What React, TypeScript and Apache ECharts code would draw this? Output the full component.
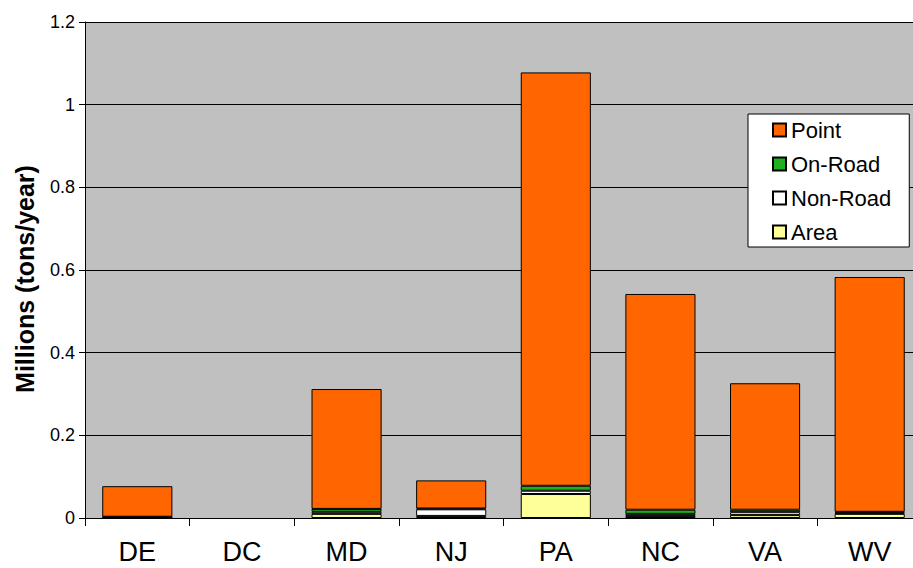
import React, { useEffect, useRef } from "react";
import * as echarts from "echarts";

// States along the x axis
const states = ["DE", "DC", "MD", "NJ", "PA", "NC", "VA", "WV"];

// Emissions by source category, millions of tons per year
const areaValues = [0.001, 0, 0.01, 0.005, 0.058, 0.005, 0.007, 0.01];
const nonRoadValues = [0.001, 0, 0.005, 0.016, 0.008, 0.005, 0.007, 0.003];
const onRoadValues = [0.001, 0, 0.007, 0.002, 0.012, 0.01, 0.006, 0.002];
const pointValues = [0.074, 0, 0.29, 0.068, 1.0, 0.522, 0.306, 0.568];

const legendOrder = ["Point", "On-Road", "Non-Road", "Area"];

const FONT = "Arial, 'Liberation Sans', sans-serif";

export default function App() {
  const ref = useRef<HTMLDivElement>(null);

  useEffect(() => {
    if (!ref.current) return;
    const chart = echarts.init(ref.current, null, { renderer: "svg" });

    // Zero entries are left empty so no flat outline is drawn on the axis
    const bar = (name: string, data: number[], color: string) => ({
      name,
      type: "bar",
      stack: "total",
      barWidth: "67%",
      data: data.map((v) => (v === 0 ? null : v)),
      itemStyle: { color, borderColor: "#000", borderWidth: 1 },
      emphasis: { disabled: true },
    });

    chart.setOption({
      animation: false,
      backgroundColor: "#ffffff",
      textStyle: { fontFamily: FONT },
      grid: {
        left: 85,
        top: 22,
        width: 837,
        bottom: 50,
        show: true,
        backgroundColor: "#C0C0C0",
        borderWidth: 0,
        outerBoundsMode: "none",
        containLabel: false,
      },
      legend: {
        data: legendOrder,
        orient: "vertical",
        left: 748,
        top: 114,
        backgroundColor: "#ffffff",
        borderColor: "#000",
        borderWidth: 1,
        borderRadius: 0,
        padding: [5, 18, 4, 24],
        itemWidth: 13,
        itemHeight: 13,
        itemGap: 12,
        itemTextGap: 9,
        icon: "rect",
        selectedMode: false,
        textStyle: { fontFamily: FONT, fontSize: 22, color: "#000", lineHeight: 22 },
      },
      xAxis: {
        type: "category",
        data: states,
        axisLine: { lineStyle: { color: "#000", width: 1 } },
        axisTick: { show: true, length: 8, lineStyle: { color: "#000" } },
        axisLabel: { color: "#000", fontSize: 27, fontFamily: FONT, margin: 20 },
      },
      yAxis: {
        type: "value",
        min: 0,
        max: 1.2,
        interval: 0.2,
        axisLine: { show: true, lineStyle: { color: "#000", width: 1 } },
        axisTick: { show: true, length: 6, lineStyle: { color: "#000" } },
        axisLabel: { color: "#000", fontSize: 18, fontFamily: FONT, margin: 10 },
        splitLine: { show: true, lineStyle: { color: "#000", width: 1 } },
      },
      graphic: [
        {
          type: "text",
          x: 25,
          y: 279,
          rotation: Math.PI / 2,
          style: {
            text: "Millions (tons/year)",
            font: `bold 25px ${FONT}`,
            fill: "#000",
            align: "center",
            verticalAlign: "middle",
          },
        },
      ],
      series: [
        bar("Area", areaValues, "#FFFF99"),
        bar("Non-Road", nonRoadValues, "#FFFFFF"),
        bar("On-Road", onRoadValues, "#1FAF1F"),
        bar("Point", pointValues, "#FF6600"),
      ],
    });

    return () => chart.dispose();
  }, []);

  return (
    <div
      ref={ref}
      style={{ position: "absolute", left: 0, top: 0, width: 913, height: 568 }}
    />
  );
}
